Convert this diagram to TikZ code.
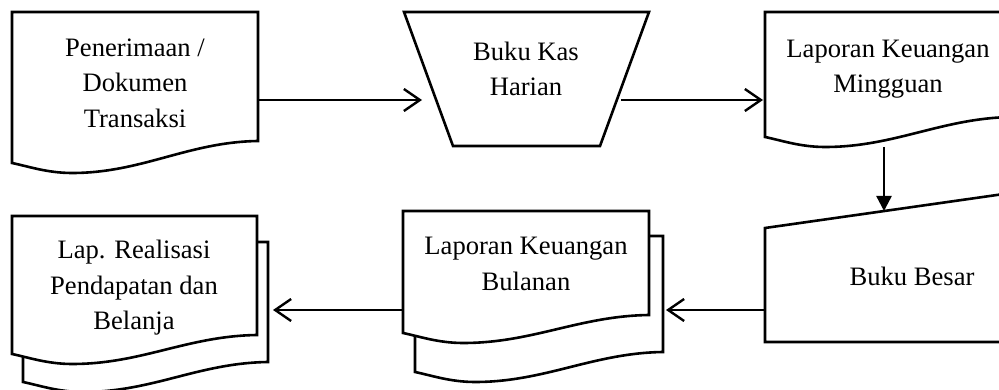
\documentclass[tikz,border=0pt]{standalone}
\usepackage{fontspec}
\setmainfont{Liberation Serif}
\usetikzlibrary{arrows.meta}

% Document symbol with a wavy bottom edge: #1=left, #2=top, #3=right, #4=bottom-left y, #5=rise of the right end
\newcommand\docshape[5]{%
  (#1,#2) -- (#3,#2) -- (#3,#4-#5)
  .. controls (#3-70,#4-#5+1) and (#1+130,#4+10) .. (#1+60,#4+10)
  .. controls (#1+35,#4+10) and (#1+15,#4+3) .. (#1,#4) -- cycle}

\begin{document}
\begin{tikzpicture}[x=1pt,y=-1pt,
  shapeline/.style={draw=black,fill=white,line width=2.6pt,line join=miter},
  label/.style={font=\fontsize{26.6}{35.5}\selectfont,align=center,inner sep=0pt,text=black},
  flow/.style={line width=2.4pt,-{Straight Barb[length=16pt,width=22pt]}},
  flowdown/.style={line width=2.4pt,-{Triangle[length=15pt,width=15pt]}}]

\fill[white] (0,0) rectangle (999,390);
\useasboundingbox (0,0) rectangle (999,390);
\clip (0,0) rectangle (999,390);

% Penerimaan / Dokumen Transaksi
\path[shapeline] \docshape{12}{12}{258}{163}{22};
\node[label] (terima) at (135,83) {Penerimaan /\\Dokumen\\Transaksi};

% Buku Kas Harian (manual operation)
\path[shapeline] (404,12) -- (649,12) -- (600,146) -- (453,146) -- cycle;
\node[label] (kas) at (526,69) {Buku Kas\\Harian};

% Laporan Keuangan Mingguan
\path[shapeline] \docshape{765}{12}{1012}{137}{20};
\node[label] (mingguan) at (888,69) {Laporan Keuangan\\Mingguan};

% Buku Besar (manual input)
\path[shapeline] (765,228) -- (1060,186) -- (1060,342) -- (765,342) -- cycle;
\node[label] (besar) at (912,276) {Buku Besar};

% Laporan Keuangan Bulanan (multiple documents)
\path[shapeline] \docshape{415}{236}{663}{372}{20};
\path[shapeline] \docshape{403}{211}{649}{333}{18};
\node[label] (bulanan) at (526,264) {Laporan Keuangan\\Bulanan};

% Lap. Realisasi Pendapatan dan Belanja (multiple documents)
\path[shapeline] \docshape{23}{242}{268}{382}{20};
\path[shapeline] \docshape{12}{216}{257}{354}{19};
\node[label] (realisasi) at (134,288) {Lap. Realisasi\\Pendapatan dan\\Belanja};

% connector ports
\coordinate (terimaOut) at (258,100);
\coordinate (kasIn) at (422,100);
\coordinate (kasOut) at (621,100);
\coordinate (mingguanIn) at (763,100);
\coordinate (mingguanOut) at (884,147);
\coordinate (besarIn) at (884,211);
\coordinate (besarOut) at (766,310);
\coordinate (bulananIn) at (666,310);
\coordinate (bulananOut) at (403,310);
\coordinate (realisasiIn) at (273,310);

\draw[flow] (terimaOut) -- (kasIn);
\draw[flow] (kasOut) -- (mingguanIn);
\draw[flowdown] (mingguanOut) -- (besarIn);
\draw[flow] (besarOut) -- (bulananIn);
\draw[flow] (bulananOut) -- (realisasiIn);
\end{tikzpicture}
\end{document}
